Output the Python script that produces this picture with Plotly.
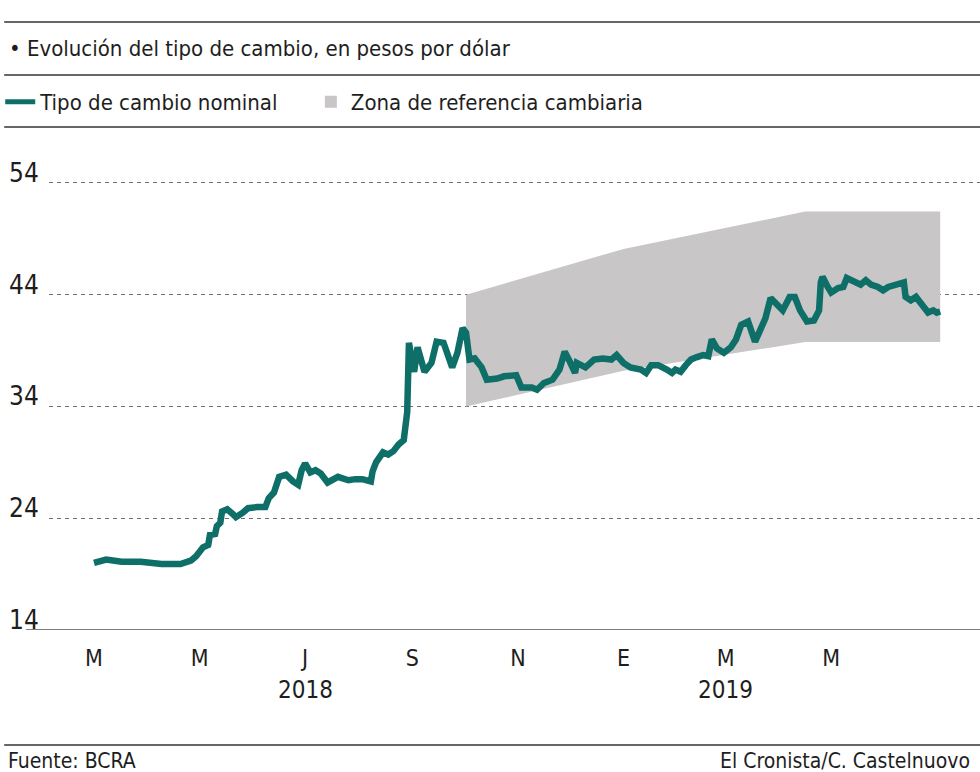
import plotly.graph_objects as go

# ---- data ----
dates = [
    "2018-03-01", "2018-03-08", "2018-03-17", "2018-03-28", "2018-04-09", "2018-04-20",
    "2018-04-26", "2018-04-29", "2018-05-03", "2018-05-06", "2018-05-07", "2018-05-10",
    "2018-05-11", "2018-05-13", "2018-05-14", "2018-05-17", "2018-05-20", "2018-05-22",
    "2018-05-26", "2018-05-29", "2018-06-03", "2018-06-08", "2018-06-10", "2018-06-13",
    "2018-06-16", "2018-06-20", "2018-06-24", "2018-06-27", "2018-06-29", "2018-07-01",
    "2018-07-04", "2018-07-07", "2018-07-10", "2018-07-14", "2018-07-20", "2018-07-26",
    "2018-07-30", "2018-08-03", "2018-08-08", "2018-08-09", "2018-08-11", "2018-08-15",
    "2018-08-18", "2018-08-21", "2018-08-24", "2018-08-27", "2018-08-29", "2018-08-30",
    "2018-09-02", "2018-09-04", "2018-09-08", "2018-09-12", "2018-09-15", "2018-09-19",
    "2018-09-24", "2018-09-27", "2018-09-30", "2018-10-02", "2018-10-04", "2018-10-07",
    "2018-10-11", "2018-10-14", "2018-10-20", "2018-10-24", "2018-10-31", "2018-11-03",
    "2018-11-09", "2018-11-12", "2018-11-16", "2018-11-21", "2018-11-25", "2018-11-28",
    "2018-12-01", "2018-12-04", "2018-12-05", "2018-12-10", "2018-12-15", "2018-12-20",
    "2018-12-25", "2018-12-28", "2019-01-01", "2019-01-05", "2019-01-11", "2019-01-14",
    "2019-01-17", "2019-01-21", "2019-01-26", "2019-01-29", "2019-01-31", "2019-02-03",
    "2019-02-06", "2019-02-09", "2019-02-12", "2019-02-16", "2019-02-19", "2019-02-21",
    "2019-02-24", "2019-02-28", "2019-03-04", "2019-03-07", "2019-03-10", "2019-03-14",
    "2019-03-18", "2019-03-21", "2019-03-24", "2019-03-27", "2019-03-30", "2019-04-03",
    "2019-04-07", "2019-04-10", "2019-04-13", "2019-04-17", "2019-04-21", "2019-04-24",
    "2019-04-25", "2019-04-26", "2019-04-29", "2019-05-01", "2019-05-05", "2019-05-08",
    "2019-05-10", "2019-05-15", "2019-05-18", "2019-05-21", "2019-05-24", "2019-05-28",
    "2019-05-31", "2019-06-03", "2019-06-08", "2019-06-12", "2019-06-13", "2019-06-16",
    "2019-06-19", "2019-06-22", "2019-06-26", "2019-06-29", "2019-07-01", "2019-07-03",
]
tipo_cambio = [
    20.0, 20.3, 20.1, 20.1, 19.9, 19.9,
    20.2, 20.6, 21.4, 21.6, 22.5, 22.6,
    23.3, 23.6, 24.6, 24.8, 24.4, 24.1,
    24.5, 24.9, 25.0, 25.0, 25.8, 26.3,
    27.7, 27.9, 27.3, 27.0, 28.3, 28.9,
    28.1, 28.3, 28.0, 27.2, 27.7, 27.4,
    27.5, 27.5, 27.3, 28.2, 29.0, 29.9,
    29.7, 30.0, 30.6, 31.0, 33.5, 39.7,
    37.1, 39.3, 37.1, 37.9, 39.8, 39.7,
    37.5, 38.8, 41.0, 40.6, 38.2, 38.3,
    37.5, 36.4, 36.5, 36.7, 36.8, 35.7,
    35.7, 35.5, 36.1, 36.4, 37.3, 38.9,
    38.0, 37.0, 37.9, 37.5, 38.2, 38.3,
    38.2, 38.6, 37.9, 37.5, 37.3, 37.0,
    37.7, 37.7, 37.3, 37.0, 37.3, 37.1,
    37.7, 38.2, 38.4, 38.6, 38.5, 40.0,
    39.2, 38.8, 39.3, 40.0, 41.3, 41.6,
    39.8, 40.7, 41.9, 43.7, 43.3, 42.6,
    43.8, 43.8, 42.6, 41.6, 41.7, 42.6,
    45.1, 45.6, 44.7, 44.2, 44.6, 44.7,
    45.5, 45.1, 44.9, 45.3, 44.9, 44.7,
    44.4, 44.7, 44.9, 45.1, 43.8, 43.5,
    43.8, 43.1, 42.4, 42.6, 42.4, 42.5,
]

band_dates = ["2018-10-02", "2019-01-01", "2019-04-16", "2019-07-03"]
band_lower = [34.0, 37.2, 39.76, 39.76]
band_upper = [44.0, 48.1, 51.45, 51.45]

month_ticks = ["2018-03-01", "2018-05-01", "2018-07-01", "2018-09-01",
               "2018-11-01", "2019-01-01", "2019-03-01", "2019-05-01"]
month_labels = ["M", "M", "J", "S", "N", "E", "M", "M"]
year_ticks = ["2018-07-01", "2019-03-01"]
year_labels = ["2018", "2019"]
y_ticks = [14, 24, 34, 44, 54]
y_labels = ["14", "24", "34", "44", "54"]

title = "• Evolución del tipo de cambio, en pesos por dólar"
source = "Fuente: BCRA"
credit = "El Cronista/C. Castelnuovo"

# ---- styles ----
FONT = "DejaVu Sans Condensed, Liberation Sans Narrow, sans-serif"
TEAL = "#0e6f68"
GRAY = "#c8c6c6"
TXT = "#1e1e1e"

W, H = 980, 772
L, R, T, B = 45, 0, 130, 142
PW, PH = W - L - R, H - T - B


def px_x(px):
    return (px - L) / PW


def px_y(py):
    return (H - B - py) / PH


fig = go.Figure()

fig.add_trace(go.Scatter(x=band_dates, y=band_lower, mode="lines",
                         line=dict(width=0, color=GRAY), showlegend=False,
                         hoverinfo="skip"))
fig.add_trace(go.Scatter(x=band_dates, y=band_upper, mode="lines", fill="tonexty",
                         fillcolor=GRAY, line=dict(width=0, color=GRAY),
                         showlegend=False, hoverinfo="skip"))
fig.add_trace(go.Scatter(x=dates, y=tipo_cambio, mode="lines",
                         line=dict(color=TEAL, width=6.5),
                         name="Tipo de cambio nominal", legend="legend"))
fig.add_trace(go.Scatter(x=[None], y=[None], mode="markers",
                         marker=dict(symbol="square", size=21, color=GRAY),
                         name="Zona de referencia cambiaria", legend="legend2"))

shapes = []
# horizontal rules
for py in (22, 75, 127, 745):
    shapes.append(dict(type="line", xref="paper", yref="paper",
                       x0=px_x(0), x1=px_x(W), y0=px_y(py), y1=px_y(py),
                       line=dict(color="#333333", width=1.6)))
# baseline at 14
shapes.append(dict(type="line", xref="paper", yref="y",
                   x0=px_x(22), x1=px_x(W), y0=14, y1=14,
                   line=dict(color="#555555", width=1.4)))
fig.update_layout(shapes=shapes)

ann = [
    dict(text=title, xref="paper", yref="paper", x=px_x(3), y=px_y(48),
         xanchor="left", yanchor="middle", showarrow=False,
         font=dict(size=22, color=TXT, family=FONT)),
    dict(text=source, xref="paper", yref="paper", x=px_x(2), y=px_y(761),
         xanchor="left", yanchor="middle", showarrow=False,
         font=dict(size=21, color=TXT, family=FONT)),
    dict(text=credit, xref="paper", yref="paper", x=px_x(972), y=px_y(761),
         xanchor="right", yanchor="middle", showarrow=False,
         font=dict(size=21, color=TXT, family=FONT)),
]
for xv, lab in zip(year_ticks, year_labels):
    ann.append(dict(text=lab, xref="x", yref="paper", x=xv, y=px_y(690),
                    xanchor="center", yanchor="middle", showarrow=False,
                    font=dict(size=24, color=TXT, family=FONT)))
for yv, lab in zip(y_ticks, y_labels):
    ann.append(dict(text=lab, xref="paper", yref="y", x=px_x(3), y=yv,
                    xanchor="left", yanchor="middle", yshift=10, showarrow=False,
                    font=dict(size=26, color=TXT, family=FONT)))
fig.update_layout(annotations=ann)

leg_common = dict(orientation="h", yanchor="middle", xanchor="left",
                  font=dict(size=22, color=TXT, family=FONT),
                  bgcolor="rgba(0,0,0,0)", itemsizing="constant")

fig.update_layout(
    width=W, height=H,
    margin=dict(l=L, r=R, t=T, b=B, pad=0),
    paper_bgcolor="white", plot_bgcolor="white",
    font=dict(family=FONT, color=TXT),
    showlegend=True,
    legend=dict(x=px_x(-4), y=px_y(102), **leg_common),
    legend2=dict(x=px_x(308), y=px_y(102), **leg_common),
    xaxis=dict(type="date", range=["2018-02-03", "2019-07-26"],
               tickvals=month_ticks, ticktext=month_labels,
               showgrid=False, zeroline=False, showline=False, ticks="",
               ticklabelstandoff=12,
               tickfont=dict(size=23, color=TXT, family=FONT)),
    yaxis=dict(range=[14, 58.74], tickvals=y_ticks, showticklabels=False,
               showgrid=True, gridcolor="#6e6e6e", gridwidth=1,
               griddash="4px,4px", zeroline=False, showline=False, ticks=""),
)

fig.write_html("out.html", config={"displayModeBar": False},
               post_script="document.body.style.margin='0px';document.body.style.overflow='hidden';")
